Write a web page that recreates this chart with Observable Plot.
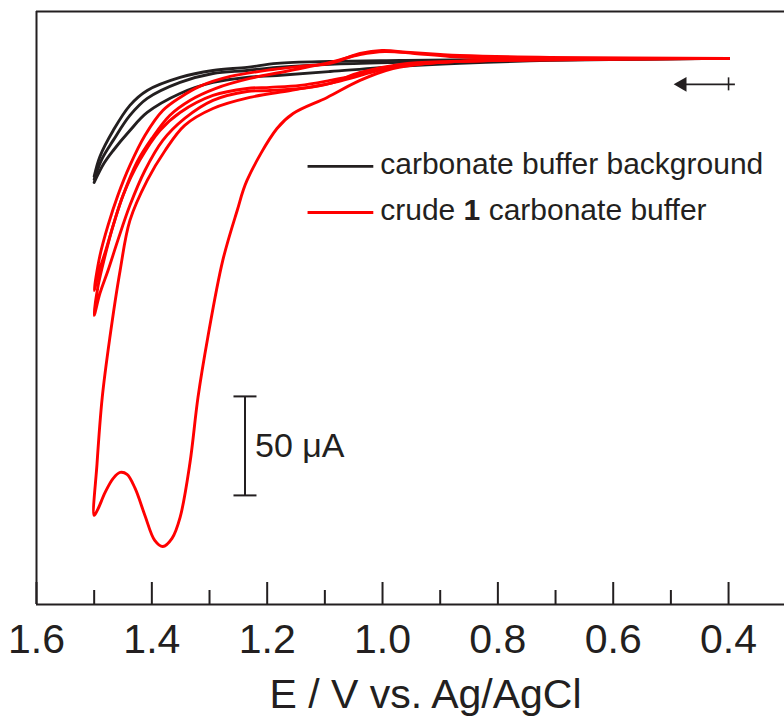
<!DOCTYPE html>
<html><head><meta charset="utf-8">
<script src="https://cdn.jsdelivr.net/npm/d3@7"></script>
<script src="https://cdn.jsdelivr.net/npm/@observablehq/plot@0.6"></script>
<style>html,body{margin:0;padding:0;background:#fff;} #chart{width:784px;height:719px;overflow:hidden;}</style>
</head><body><div id="chart"></div>
<script>
// ---- Data: potential E (V vs. Ag/AgCl), current I (µA, anodic drawn downward) ----
const bgTrace1 = [[0.40,0],[0.796,-0.5],[0.970,-1.0],[1.091,-1.5],[1.183,-2.5],[1.235,-4.5],[1.294,-6.1],[1.351,-9.6],[1.408,-16.2],[1.438,-23.7],[1.467,-36.4],[1.490,-49.5],[1.500,-59.6]];
const bgTrace2 = [[0.40,0],[0.796,-1.0],[0.970,-2.0],[1.091,-3.0],[1.183,-4.5],[1.235,-6.1],[1.294,-7.6],[1.351,-12.1],[1.408,-20.2],[1.438,-28.8],[1.467,-41.4],[1.486,-50.5],[1.500,-61.1]];
const bgTrace3 = [[0.40,0],[0.710,-1.0],[0.866,-2.5],[0.970,-4.0],[1.091,-6.6],[1.183,-8.6],[1.235,-9.6],[1.294,-12.1],[1.351,-17.7],[1.408,-27.3],[1.438,-36.4],[1.467,-46.5],[1.483,-53.0],[1.500,-62.6]];

const crudeCycle1 = [[0.40,0],[0.623,-0.5],[0.866,-1.5],[0.923,-2.5],[0.982,-5.1],[1.039,-11.1],[1.096,-19.7],[1.155,-27.8],[1.183,-35.4],[1.235,-61.6],[1.252,-76.8],[1.277,-102.0],[1.303,-140.9],[1.320,-171.2],[1.334,-204.5],[1.351,-231.8],[1.365,-242.4],[1.381,-246.5],[1.395,-243.4],[1.412,-230.8],[1.429,-217.2],[1.443,-210.1],[1.455,-209.1],[1.467,-212.1],[1.481,-219.2],[1.493,-227.3],[1.500,-230.8],
  [1.495,-204.5],[1.486,-171.2],[1.473,-141.4],[1.455,-107.1],[1.438,-81.8],[1.408,-61.6],[1.377,-46.5],[1.343,-33.8],[1.294,-25.3],[1.230,-19.7],[1.160,-16.2],[1.091,-12.6],[1.039,-7.1],[0.970,-3.0],[0.883,-1.5],[0.40,0]];
const crudeCycle2 = [[0.40,0],[0.710,-0.5],[0.866,-1.5],[0.970,-3.5],[1.021,-6.1],[1.056,-9.1],[1.091,-11.1],[1.143,-13.6],[1.195,-14.6],[1.235,-15.2],[1.294,-18.7],[1.351,-27.3],[1.386,-36.4],[1.421,-51.5],[1.450,-69.2],[1.467,-84.3],[1.481,-98.0],[1.490,-106.1],[1.500,-117.2],
  [1.490,-99.5],[1.476,-84.3],[1.459,-69.2],[1.438,-54.0],[1.412,-38.9],[1.381,-26.3],[1.351,-19.7],[1.317,-14.1],[1.264,-9.1],[1.190,-5.6],[1.143,-4.0],[1.091,-2.5],[1.039,2.5],[1.001,4.0],[0.952,3.0],[0.900,2.0],[0.866,1.5],[0.710,0.5],[0.40,0]];
const crudeCycle3 = [[0.40,0],[0.710,-0.5],[0.866,-1.5],[0.970,-4.0],[1.021,-7.1],[1.056,-10.1],[1.091,-12.6],[1.143,-15.2],[1.195,-16.2],[1.235,-16.7],[1.294,-21.2],[1.343,-30.3],[1.381,-41.4],[1.412,-56.6],[1.438,-74.2],[1.459,-91.9],[1.476,-107.1],[1.490,-118.7],[1.500,-129.8],
  [1.493,-114.6],[1.481,-99.5],[1.467,-84.3],[1.450,-69.2],[1.426,-52.5],[1.400,-40.4],[1.369,-28.8],[1.334,-21.2],[1.290,-15.2],[1.230,-10.1],[1.160,-6.1],[1.091,-2.0],[1.039,2.0],[0.996,3.5],[0.944,2.5],[0.883,1.0],[0.762,0.0],[0.40,0]];

const majorTicks = [1.6, 1.4, 1.2, 1.0, 0.8, 0.6, 0.4];
const minorTicks = [1.5, 1.3, 1.1, 0.9, 0.7, 0.5];
const seriesNames = ["carbonate buffer background", "crude 1 carbonate buffer"];
const scaleBarLabel = "50 μA";
const scaleBarSpan = 50; // µA
const axisTitle = "E / V vs. Ag/AgCl";

// ---- Build table ----
const toRows = (pts, trace, group) => pts.map(([E, I], i) => ({E, I, trace, group, i}));
const bgRows = [bgTrace1, bgTrace2, bgTrace3].flatMap((t, k) => toRows(t, "bg" + k, 0));
const crudeRows = [crudeCycle1, crudeCycle2, crudeCycle3].flatMap((t, k) => toRows(t, "cr" + k, 1));

// ---- Layout / style ----
const W = 784, H = 719, mT = 11, mB = 115, mL = 36, mR = 0;
const X_DOMAIN = [1.6, 0.303];
const Y_DOMAIN = [-275.8, 23.7];
const pxPerUA = (H - mT - mB) / (Y_DOMAIN[1] - Y_DOMAIN[0]);
const pxPerV = (W - mL - mR) / (X_DOMAIN[0] - X_DOMAIN[1]);
const ink = "#231f20";
const red = "#ff0000";
const FONT = "'Liberation Sans', Arial, Helvetica, sans-serif";
const uaOf = px => px / pxPerUA;
const vOf = px => px / pxPerV;

// annotation positions
const legendY0 = -54.5, legendY1 = -77.8;
const legendX1 = 1.130, legendX2 = 1.016, legendTextX = 1.004;
const barX = 1.2385, barTop = -170.7;
const barBottom = barTop - scaleBarSpan;
const arrowY = -13.1;
const arrowTail = 0.389, arrowTip = 0.489;

const legendRows = seriesNames.map((name, k) => ({name, k, y: k === 0 ? legendY0 : legendY1}));

const chart = Plot.plot({
  width: W, height: H,
  marginTop: mT, marginBottom: mB, marginLeft: mL, marginRight: mR,
  style: {fontFamily: FONT, fontSize: "41px", color: ink, background: "#fff", overflow: "visible"},
  x: {domain: X_DOMAIN, axis: null},
  y: {domain: Y_DOMAIN, axis: null},
  marks: [
    // frame (left, top, bottom)
    Plot.ruleX([X_DOMAIN[0]], {stroke: ink, strokeWidth: 2}),
    Plot.ruleY([Y_DOMAIN[0], Y_DOMAIN[1]], {stroke: ink, strokeWidth: 2}),
    // inward ticks
    Plot.ruleX(majorTicks, {x: d => d, y1: Y_DOMAIN[0], y2: Y_DOMAIN[0] + uaOf(22), stroke: ink, strokeWidth: 2}),
    Plot.ruleX(minorTicks, {x: d => d, y1: Y_DOMAIN[0], y2: Y_DOMAIN[0] + uaOf(14), stroke: ink, strokeWidth: 2}),
    Plot.axisX({ticks: majorTicks, tickSize: 0, tickPadding: 19, tickFormat: d3.format(".1f"), fontSize: 41, fill: ink, label: null}),
    Plot.text([axisTitle], {x: 0.9255, frameAnchor: "bottom", dy: 90, text: d => d, fontSize: 41, fill: ink, lineAnchor: "middle"}),
    // curves
    Plot.line(bgRows, {x: "E", y: "I", z: "trace", stroke: ink, strokeWidth: 2.9, curve: "catmull-rom"}),
    Plot.line(crudeRows, {x: "E", y: "I", z: "trace", stroke: red, strokeWidth: 2.9, curve: "catmull-rom"}),
    // legend
    Plot.link(legendRows, {x1: legendX1, x2: legendX2, y1: "y", y2: "y", stroke: d => d.k === 0 ? ink : red, strokeWidth: 2.9}),
    Plot.text(legendRows, {x: legendTextX, y: "y", text: "name", textAnchor: "start", lineAnchor: "middle", dy: -2, fontSize: 30, fill: ink}),
    // scale bar
    Plot.link([{a: barTop, b: barBottom}], {x1: barX, x2: barX, y1: "a", y2: "b", stroke: ink, strokeWidth: 2}),
    Plot.link([barTop, barBottom], {x1: barX + vOf(11.5), x2: barX - vOf(11.5), y1: d => d, y2: d => d, stroke: ink, strokeWidth: 2}),
    Plot.text([scaleBarLabel], {x: barX - vOf(10), y: (barTop + barBottom) / 2, text: d => d, textAnchor: "start", lineAnchor: "middle", fontSize: 34, fill: ink}),
    // scan direction arrow (shaft, filled head, start tick)
    Plot.link([{a: arrowTail, b: arrowTip - vOf(5)}], {x1: "a", x2: "b", y1: arrowY, y2: arrowY, stroke: ink, strokeWidth: 1.6}),
    Plot.dot([arrowTip], {x: d => d - vOf(5), y: arrowY, symbol: "triangle", rotate: -90, r: 5.5, fill: ink, stroke: "none"}),
    Plot.link([0.40], {x1: d => d, x2: d => d, y1: arrowY + uaOf(7), y2: arrowY - uaOf(6), stroke: ink, strokeWidth: 1.6})
  ]
});

// bold "1" in the second legend entry
chart.querySelectorAll("text").forEach(el => {
  if (el.textContent === "crude 1 carbonate buffer") {
    while (el.firstChild) el.removeChild(el.firstChild);
    const ns = "http://www.w3.org/2000/svg";
    [["crude ", null], ["1", "bold"], [" carbonate buffer", null]].forEach(([s, w]) => {
      const ts = document.createElementNS(ns, "tspan");
      ts.textContent = s;
      if (w) ts.setAttribute("font-weight", w);
      el.appendChild(ts);
    });
    el.setAttribute("xml:space", "preserve");
    el.style.whiteSpace = "pre";
  }
});

document.getElementById("chart").appendChild(chart);
</script>
</body></html>
